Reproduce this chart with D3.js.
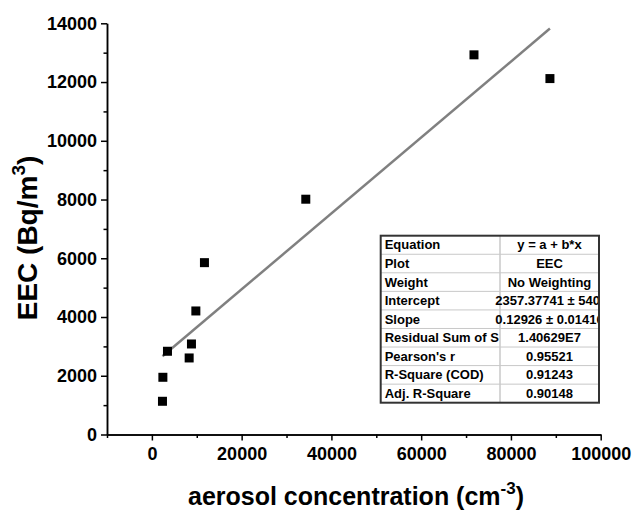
<!DOCTYPE html>
<html lang="en">
<head>
<meta charset="UTF-8">
<title>EEC vs aerosol concentration</title>
<script src="https://d3js.org/d3.v7.min.js"></script>
<style>
    body { margin: 0; background: #fff; }
    svg text { font-family: "Liberation Sans", Arial, sans-serif; font-weight: bold; fill: #000; }
    .axis path, .axis line { stroke: #000; stroke-width: 1.5px; }
    .axis text { font-size: 18px; }
</style>
</head>
<body>
<svg id="chart" width="633" height="513"></svg>
<script>
// data
const aerosol = [2360, 2449, 3474, 8306, 8818, 9797, 11712, 34291, 71766, 88688];
const eec = [1131, 1948, 2834, 2606, 3082, 4206, 5851, 8011, 12926, 12118];

// linear fit from the stats table
const fitIntercept = 2357.37741;
const fitSlope = 0.12926;

const xTicks = [0, 20000, 40000, 60000, 80000, 100000];
const xMinor = [-10000, 10000, 30000, 50000, 70000, 90000];
const yTicks = [0, 2000, 4000, 6000, 8000, 10000, 12000, 14000];
const yMinor = [1000, 3000, 5000, 7000, 9000, 11000, 13000];

const tableLabels = ["Equation", "Plot", "Weight", "Intercept", "Slope",
    "Residual Sum of S", "Pearson's r", "R-Square (COD)", "Adj. R-Square"];
const tableValues = ["y = a + b*x", "EEC", "No Weighting", "2357.37741 \u00b1 540.",
    "0.12926 \u00b1 0.01416", "1.40629E7", "0.95521", "0.91243", "0.90148"];

const svg = d3.select("#chart");
svg.append("rect").attr("width", 633).attr("height", 513).attr("fill", "#fff");

const x = d3.scaleLinear().domain([-10000, 100000]).range([107, 600.7]);
const y = d3.scaleLinear().domain([0, 14000]).range([434.5, 23.3]);

// minor ticks first, then the main axes on top
svg.append("g").attr("class", "axis")
    .attr("transform", "translate(0,434.5)")
    .call(d3.axisBottom(x).tickValues(xMinor).tickSize(3.5).tickSizeOuter(0).tickFormat(""));
svg.append("g").attr("class", "axis")
    .attr("transform", "translate(107,0)")
    .call(d3.axisLeft(y).tickValues(yMinor).tickSize(3.5).tickSizeOuter(0).tickFormat(""));

svg.append("g").attr("class", "axis")
    .attr("transform", "translate(0,434.5)")
    .call(d3.axisBottom(x).tickValues(xTicks).tickSize(6).tickPadding(7).tickSizeOuter(0).tickFormat(d3.format("d")));
svg.append("g").attr("class", "axis")
    .attr("transform", "translate(107,0)")
    .call(d3.axisLeft(y).tickValues(yTicks).tickSize(6).tickPadding(4).tickSizeOuter(0).tickFormat(d3.format("d")));

// fit line over the data range
const xr = d3.extent(aerosol);
svg.append("line")
    .attr("x1", x(xr[0])).attr("y1", y(fitIntercept + fitSlope * xr[0]))
    .attr("x2", x(xr[1])).attr("y2", y(fitIntercept + fitSlope * xr[1]))
    .attr("stroke", "#808080")
    .attr("stroke-width", 2.5);

// points
const sq = 9;
svg.selectAll(".pt")
    .data(aerosol.map((d, i) => ({ a: d, e: eec[i] })))
    .enter().append("rect")
    .attr("class", "pt")
    .attr("x", d => x(d.a) - sq / 2)
    .attr("y", d => y(d.e) - sq / 2)
    .attr("width", sq)
    .attr("height", sq)
    .attr("fill", "#000");

// axis titles
const xt = svg.append("text")
    .attr("x", 356).attr("y", 505)
    .attr("text-anchor", "middle")
    .style("font-size", "25px");
xt.append("tspan").text("aerosol concentration (cm");
xt.append("tspan").attr("dy", -11).style("font-size", "17px").text("-3");
xt.append("tspan").attr("dy", 11).text(")");

const yt = svg.append("text")
    .attr("transform", "translate(37,238) rotate(-90)")
    .attr("text-anchor", "middle")
    .style("font-size", "28px");
yt.append("tspan").text("EEC (Bq/m");
yt.append("tspan").attr("dy", -12).style("font-size", "19px").text("3");
yt.append("tspan").attr("dy", 12).text(")");

// stats table
const tx0 = 380.7, tx1 = 599, tmid = 500, ty0 = 235.7, ty1 = 402.7;
const rowH = (ty1 - ty0) / tableLabels.length;

svg.append("clipPath").attr("id", "tclip")
    .append("rect").attr("x", tx0).attr("y", ty0).attr("width", tx1 - tx0).attr("height", ty1 - ty0);

const table = svg.append("g").attr("clip-path", "url(#tclip)");
table.append("rect")
    .attr("x", tx0).attr("y", ty0).attr("width", tx1 - tx0).attr("height", ty1 - ty0)
    .attr("fill", "#fff");

table.selectAll(".hline")
    .data(d3.range(1, tableLabels.length))
    .enter().append("line")
    .attr("x1", tx0).attr("x2", tx1)
    .attr("y1", i => ty0 + i * rowH).attr("y2", i => ty0 + i * rowH)
    .attr("stroke", "#c8c8c8").attr("stroke-width", 1);
table.append("line")
    .attr("x1", tmid).attr("x2", tmid).attr("y1", ty0).attr("y2", ty1)
    .attr("stroke", "#c8c8c8").attr("stroke-width", 1.5);

table.selectAll(".lab")
    .data(tableLabels)
    .enter().append("text")
    .attr("x", tx0 + 4)
    .attr("y", (d, i) => ty0 + (i + 0.5) * rowH + 4.5)
    .style("font-size", "13px")
    .text(d => d);

table.selectAll(".val")
    .data(tableValues)
    .enter().append("text")
    .attr("x", (tmid + tx1) / 2)
    .attr("y", (d, i) => ty0 + (i + 0.5) * rowH + 4.5)
    .attr("text-anchor", "middle")
    .style("font-size", "13px")
    .text(d => d);

svg.append("rect")
    .attr("x", tx0).attr("y", ty0).attr("width", tx1 - tx0).attr("height", ty1 - ty0)
    .attr("fill", "none").attr("stroke", "#333").attr("stroke-width", 2);
</script>
</body>
</html>
